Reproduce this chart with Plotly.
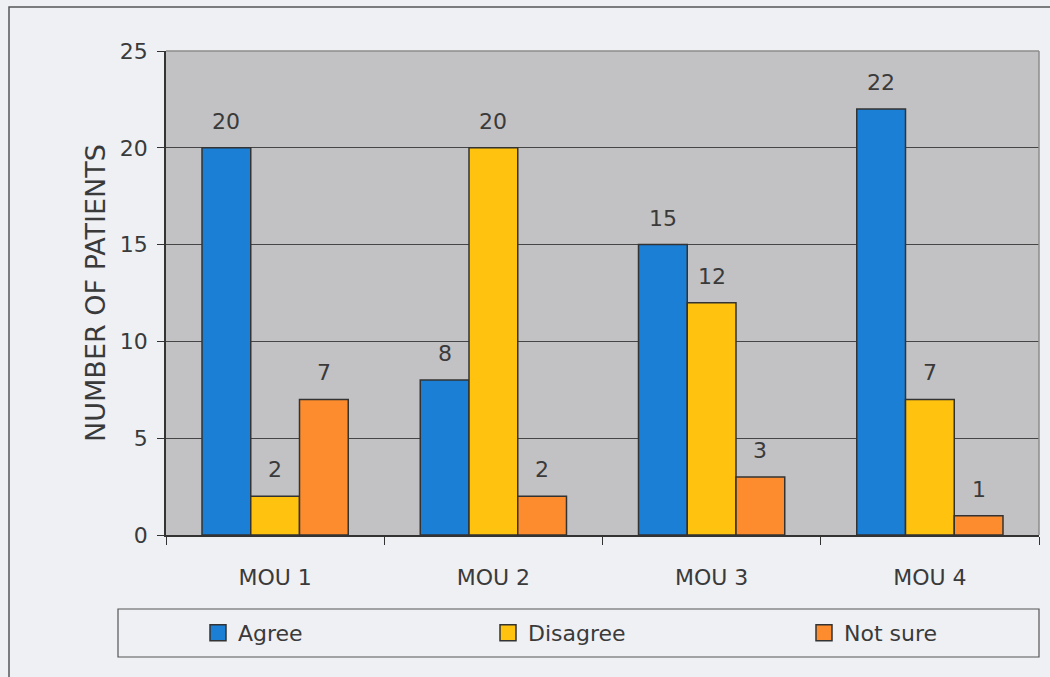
import plotly.graph_objects as go

# Survey responses per item
categories = ["MOU 1", "MOU 2", "MOU 3", "MOU 4"]
agree = [20, 8, 15, 22]
disagree = [2, 20, 12, 7]
not_sure = [7, 2, 3, 1]
series_names = ["Agree", "Disagree", "Not sure"]
y_ticks = [0, 5, 10, 15, 20, 25]

colors = ["#1b7fd6", "#ffc20f", "#fd8c2e"]
font_family = "DejaVu Sans"
text_color = "#3a3a3a"
edge_color = "#333333"

W, H = 1050, 677
margin = dict(l=166, r=11, t=51, b=142)
bargap = 0.33

plot_w = W - margin["l"] - margin["r"]
plot_h = H - margin["t"] - margin["b"]


def py(px):
    return (H - margin["b"] - px) / plot_h


def px_(x):
    return (x - margin["l"]) / plot_w


fig = go.Figure()
legend_ids = ["legend", "legend2", "legend3"]
for name, vals, col, lg in zip(series_names, [agree, disagree, not_sure], colors, legend_ids):
    fig.add_trace(go.Bar(
        x=categories, y=vals, name=name, legendgroup=name, showlegend=False,
        marker=dict(color=col, line=dict(color=edge_color, width=1.5)),
    ))
    # square legend key for the series
    fig.add_trace(go.Scatter(
        x=[None], y=[None], name=name, legendgroup=name, legend=lg,
        mode="markers", hoverinfo="skip",
        marker=dict(symbol="square", size=16, color=col,
                    line=dict(color=edge_color, width=1.5)),
    ))

# value labels above each bar
bar_w = (1 - bargap) * plot_w / len(categories) / len(series_names)
annotations = []
for i, vals in enumerate([agree, disagree, not_sure]):
    for c, v in zip(categories, vals):
        annotations.append(dict(
            x=c, y=v, xref="x", yref="y", text=str(v), showarrow=False,
            xshift=(i - 1) * bar_w, yshift=12, yanchor="bottom",
            font=dict(size=22, color=text_color, family=font_family),
        ))

shapes = [
    # plot frame (top / right)
    dict(type="line", xref="paper", yref="paper", x0=0, x1=1, y0=1, y1=1,
         line=dict(color="#8c8c8c", width=1.5)),
    dict(type="line", xref="paper", yref="paper", x0=1, x1=1, y0=0, y1=1,
         line=dict(color="#8c8c8c", width=1.5)),
    # legend box
    dict(type="rect", xref="paper", yref="paper",
         x0=px_(118), x1=px_(1039), y0=py(657), y1=py(609),
         line=dict(color="#555555", width=1.2)),
    # outer frame
    dict(type="rect", xref="paper", yref="paper",
         x0=px_(9), x1=px_(1070), y0=py(700), y1=py(7),
         line=dict(color="#555555", width=1.5)),
]

legend_style = dict(orientation="h", xanchor="left", y=py(633), yanchor="middle",
                    bgcolor="rgba(0,0,0,0)", font=dict(size=22, color=text_color),
                    itemclick=False)

fig.update_layout(
    width=W, height=H, margin=margin,
    barmode="group", bargap=bargap, bargroupgap=0,
    paper_bgcolor="#eff0f4", plot_bgcolor="#c2c1c3",
    font=dict(family=font_family, size=22, color=text_color),
    showlegend=True,
    legend=dict(x=px_(198), **legend_style),
    legend2=dict(x=px_(488), **legend_style),
    legend3=dict(x=px_(804), **legend_style),
    annotations=annotations, shapes=shapes,
)
fig.update_xaxes(
    showline=True, linecolor=edge_color, linewidth=1.5,
    ticks="outside", tickson="boundaries", ticklen=8, tickcolor=edge_color,
    showgrid=False, ticklabelstandoff=22,
    tickfont=dict(size=22, color=text_color),
)
fig.update_yaxes(
    range=[0, 25], tickvals=y_ticks,
    showline=True, linecolor=edge_color, linewidth=1.5,
    ticks="outside", ticklen=7, tickcolor=edge_color,
    showgrid=True, gridcolor="#454545", gridwidth=1,
    ticklabelstandoff=5,
    zeroline=False,
    tickfont=dict(size=22, color=text_color),
    title=dict(text="NUMBER OF PATIENTS", standoff=6,
               font=dict(size=27, color=text_color)),
)

fig.write_html("out.html")
